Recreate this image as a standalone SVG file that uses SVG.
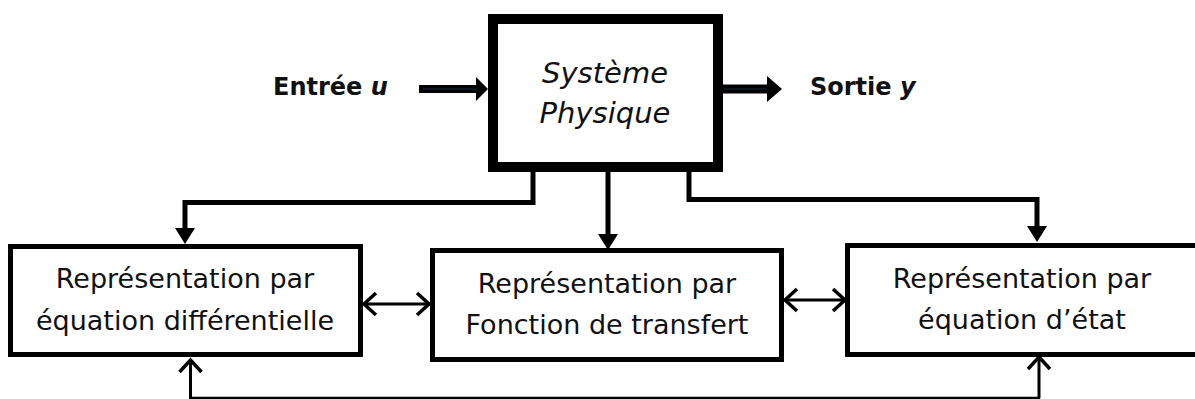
<svg xmlns="http://www.w3.org/2000/svg" width="1195" height="399" viewBox="0 0 1195 399">
  <style>
    .box { fill: #fff; stroke: #000; stroke-width: 5; }
    .sys { fill: #fff; stroke: #000; stroke-width: 10; }
    .lbl { font-family: "DejaVu Sans", Verdana, sans-serif; font-size: 27px; fill: #111; text-anchor: middle; }
    .sysl { font-family: "DejaVu Sans", Verdana, sans-serif; font-size: 29px; font-style: italic; fill: #111; text-anchor: middle; }
    .io { font-family: "DejaVu Sans", Verdana, sans-serif; font-size: 24px; font-weight: bold; fill: #111; }
    .wire { fill: none; stroke: #000; stroke-width: 5; stroke-linejoin: miter; }
    .thin { fill: none; stroke: #000; stroke-width: 3; }
    .base { fill: none; stroke: #000; stroke-width: 2.5; }
    .core { fill: none; stroke: #1c2b3c; stroke-width: 1.2; }
  </style>
  <defs>
    <!-- solid head, anchored at its back edge -->
    <marker id="solid" markerUnits="userSpaceOnUse" markerWidth="16" markerHeight="20" viewBox="0 0 16 20" refX="0" refY="10" orient="auto" overflow="visible">
      <path d="M0,0 L16,10 L0,20 Z" fill="#000"/>
    </marker>
    <!-- open chevron, anchored at its tip -->
    <marker id="open" markerUnits="userSpaceOnUse" markerWidth="14" markerHeight="24" viewBox="0 0 14 24" refX="13" refY="12" orient="auto-start-reverse" overflow="visible">
      <path d="M1,1 L13,12 L1,23" fill="none" stroke="#000" stroke-width="3.5" stroke-linejoin="miter"/>
    </marker>
  </defs>

  <!-- input / output signals -->
  <g id="signal-in">
    <text class="io" x="273" y="95">Entrée <tspan font-style="italic">u</tspan></text>
    <line x1="419" y1="89" x2="479" y2="89" stroke="#000" stroke-width="8"/>
    <line x1="423" y1="89" x2="477" y2="89" class="core"/>
    <polygon points="476,77 488,89 476,101" fill="#000"/>
  </g>
  <g id="signal-out">
    <line x1="718" y1="89" x2="770" y2="89" stroke="#000" stroke-width="9"/>
    <line x1="724" y1="89" x2="766" y2="89" class="core"/>
    <polygon points="767,76 782,89 767,102" fill="#000"/>
    <text class="io" x="810" y="95">Sortie <tspan font-style="italic">y</tspan></text>
  </g>

  <!-- physical system -->
  <g id="systeme">
    <rect class="sys" x="493" y="19" width="225" height="148"/>
    <text class="sysl" x="605" y="83">Système</text>
    <text class="sysl" x="605" y="123">Physique</text>
  </g>

  <!-- representation blocks -->
  <g id="equa-diff">
    <rect class="box" x="10.5" y="246.5" width="350" height="108"/>
    <text class="lbl" x="185" y="288">Représentation par</text>
    <text class="lbl" x="185" y="330">équation différentielle</text>
  </g>
  <g id="fonction-transfert">
    <rect class="box" x="432.5" y="250.5" width="349" height="109"/>
    <text class="lbl" x="607" y="293">Représentation par</text>
    <text class="lbl" x="607" y="334">Fonction de transfert</text>
  </g>
  <g id="equa-etat">
    <rect class="box" x="847.5" y="245.5" width="360" height="109"/>
    <text class="lbl" x="1022" y="288">Représentation par</text>
    <text class="lbl" x="1022" y="329">équation d’état</text>
  </g>

  <!-- connectors -->
  <g id="connectors">
    <path class="wire" d="M533,167 V202.5 H185 V228" marker-end="url(#solid)"/>
    <path class="wire" d="M608,167 V234" marker-end="url(#solid)"/>
    <path class="wire" d="M689,167 V199.5 H1037 V226" marker-end="url(#solid)"/>

    <line class="thin" x1="364" y1="304" x2="429" y2="304" marker-start="url(#open)" marker-end="url(#open)"/>
    <line class="thin" x1="785" y1="300" x2="845" y2="300" marker-start="url(#open)" marker-end="url(#open)"/>

    <line class="base" x1="189" y1="398" x2="1040" y2="398"/>
    <line class="thin" x1="190.5" y1="398" x2="190.5" y2="360" stroke-width="4" marker-end="url(#open)"/>
    <line class="thin" x1="1039" y1="398" x2="1039" y2="357" stroke-width="4" marker-end="url(#open)"/>
  </g>
</svg>
